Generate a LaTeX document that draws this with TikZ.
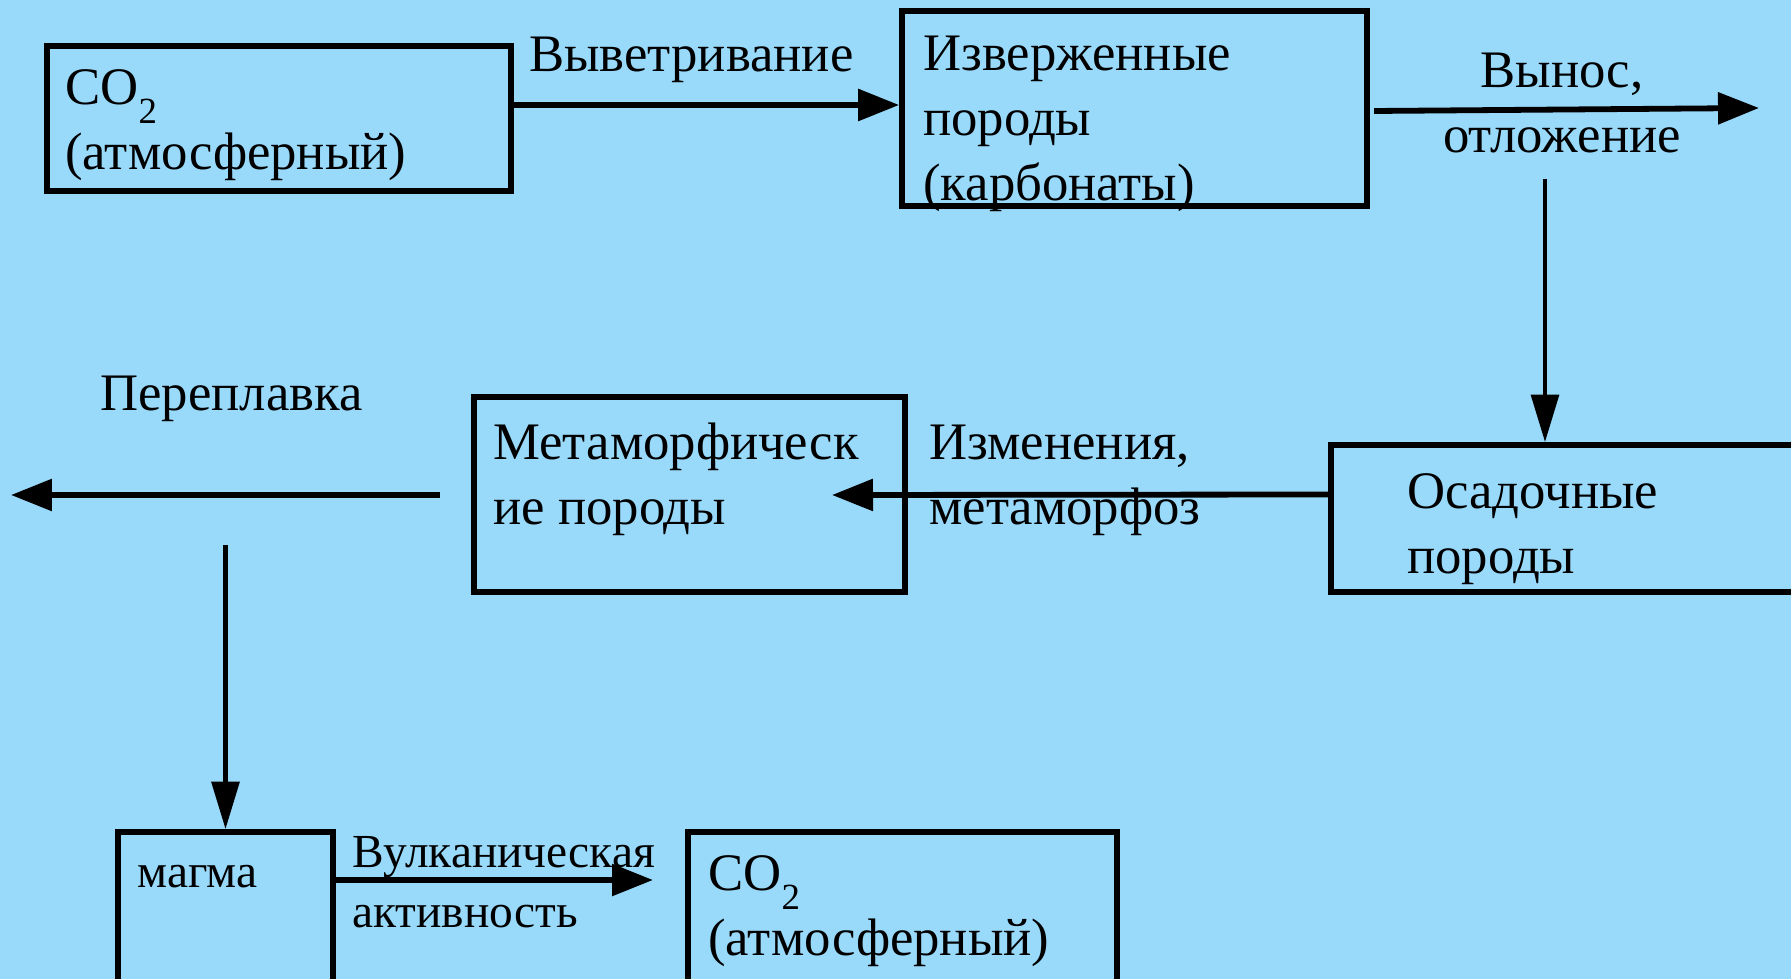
\documentclass[tikz,border=0pt]{standalone}
\usepackage{fontspec}
\setmainfont{Liberation Serif}
\usetikzlibrary{arrows.meta}
\definecolor{skyfill}{RGB}{153,217,250}
\newcommand\lowtwo{\raisebox{-0.36em}[0pt][0pt]{\fontsize{21}{21}\selectfont 2}}
\tikzset{
  box/.style={draw, line width=3.3pt, inner sep=0pt},
  lbl/.style={inner sep=0pt, align=left, anchor=west, font=\fontsize{30}{37}\selectfont},
  small/.style={lbl, font=\fontsize{27}{34}\selectfont},
  flow/.style={line width=3.3pt, -{Triangle[length=0.82cm, width=0.62cm]}},
  drop/.style={line width=2.6pt, -{Triangle[length=0.95cm, width=0.55cm]}},
}

\begin{document}
\begin{tikzpicture}[x=0.02cm, y=-0.02cm]
  %%%%% START %%%%%

  \fill[skyfill] (0,0) rectangle (1791,979);
  \useasboundingbox (0,0) rectangle (1791,979);

  % boxes
  \node[box, minimum width=9.28cm, minimum height=2.9cm] (co2top) at (279,118.5) {};
  \node[box, minimum width=9.3cm, minimum height=3.9cm] (igneous) at (1134.5,108.5) {};
  \node[box, minimum width=10.38cm, minimum height=2.94cm] (sediment) at (1590.5,518.5) {};
  \node[box, minimum width=8.62cm, minimum height=3.9cm] (metamorph) at (689.5,494.5) {};
  \node[box, minimum width=4.3cm, minimum height=4.16cm] (magma) at (225.5,936) {};
  \node[box, minimum width=8.58cm, minimum height=4.16cm] (co2bot) at (902.5,936) {};

  % texts
  \node[lbl] (co2toptxt) at (65,125) {CO\lowtwo\\(атмосферный)};
  \node[lbl] (igneoustxt) at (923,124) {Изверженные\\породы\\(карбонаты)};
  \node[lbl] (sedimenttxt) at (1407,529) {Осадочные\\породы};
  \node[lbl] (metamorphtxt) at (493,479) {Метаморфическ\\ие породы};
  \node[small] (magmatxt) at (137,877) {магма};
  \node[lbl] (co2bottxt) at (708,911) {CO\lowtwo\\(атмосферный)};

  \node[lbl] (weathering) at (529,60) {Выветривание};
  \node[lbl, align=center, anchor=center] (removal) at (1562,103) {Вынос,\\отложение};
  \node[lbl] (changes) at (929,480) {Изменения,\\метаморфоз};
  \node[lbl] (remelting) at (100,399) {Переплавка};
  \node[small] (volcanic) at (352,882) {Вулканическая\\активность};

  % arrows
  \coordinate (outstart) at (1374,111);
  \coordinate (outend) at (1759,108);
  \coordinate (dropstart) at (1545,179);
  \coordinate (metatip) at (832,495);
  \coordinate (meltstart) at (440,495);
  \coordinate (meltend) at (11,495);
  \coordinate (magmastart) at (225.5,545);
  \coordinate (volctip) at (653,880);

  \draw[flow] (co2top.east |- 0,105) -- (igneous.west |- 0,105);
  \draw[flow] (outstart) -- (outend);
  \draw[drop] (dropstart) -- (dropstart |- sediment.north);
  \draw[flow] (sediment.west |- metamorph) -- (metatip);
  \draw[flow] (meltstart) -- (meltend);
  \draw[drop] (magmastart) -- (magma.north);
  \draw[flow] (magma.east |- volctip) -- (volctip);

  %%%%% END %%%%%
\end{tikzpicture}
\end{document}
